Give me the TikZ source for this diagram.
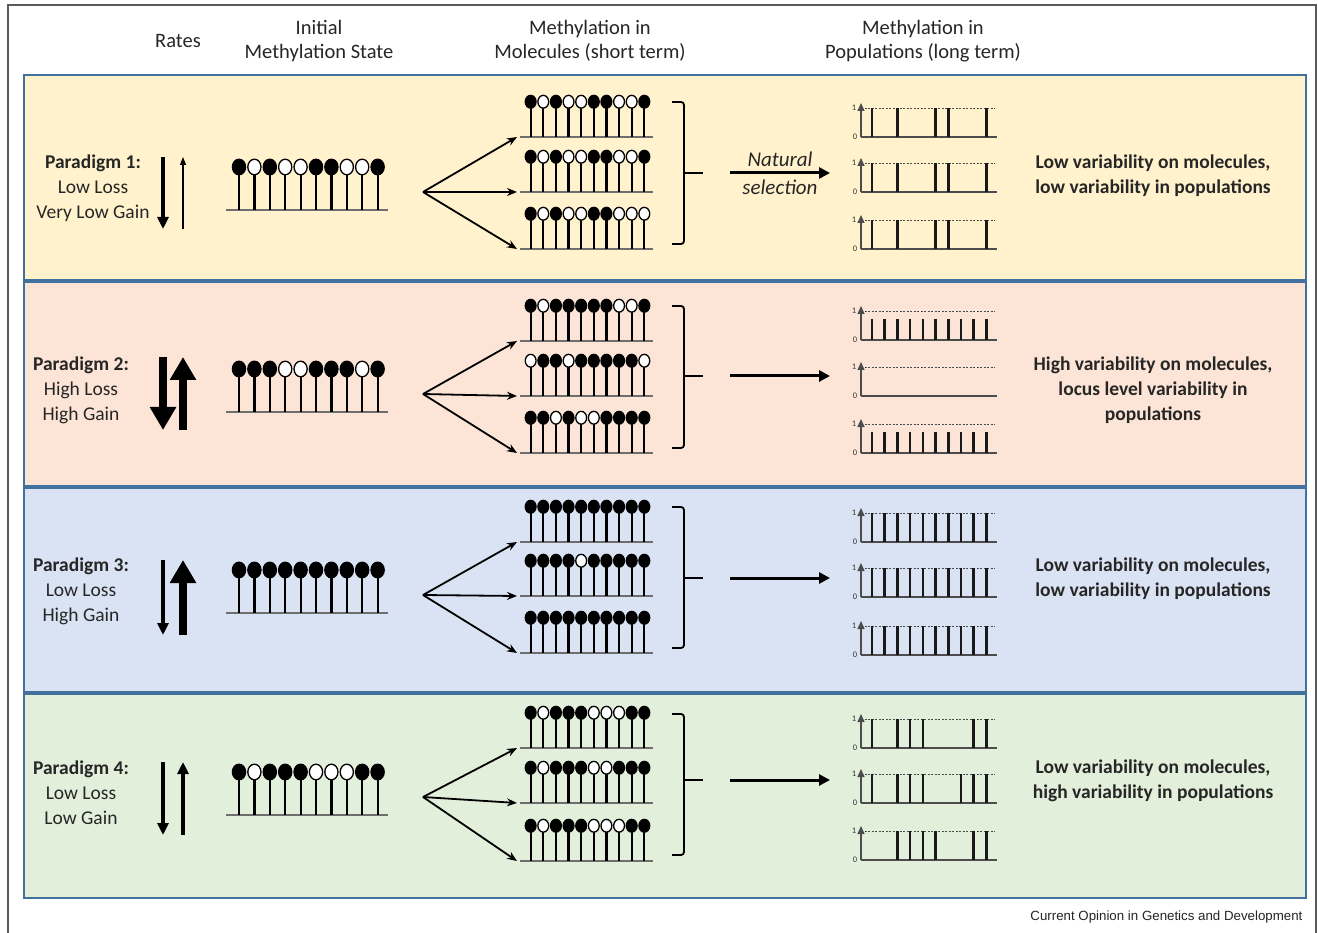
\documentclass[tikz,border=0pt]{standalone}
\usepackage{fontspec}
\setmainfont{Carlito}
\newfontfamily\creditfont{Liberation Sans}
\usepackage{tikz}
\usetikzlibrary{arrows.meta}

\definecolor{paneyellow}{RGB}{255, 242, 204}
\definecolor{panepeach}{RGB}{252, 228, 214}
\definecolor{paneblue}{RGB}{218, 227, 243}
\definecolor{panegreen}{RGB}{226, 239, 218}
\definecolor{paneedge}{RGB}{65, 113, 156}
\definecolor{framegray}{RGB}{90, 90, 90}
\definecolor{basegray}{RGB}{110, 110, 110}
\definecolor{inkgray}{RGB}{38, 38, 38}

% row of CpG lollipops: left end x, baseline y, size factor, states (1 = methylated)
\newcommand{\lollirow}[4]{%
  \draw[baseln] (#1,#2) -- ({#1+162*#3},#2);
  \foreach \m [count=\k from 0] in {#4} {
    \ifnum\m=1 \def\sitecol{black}\else\def\sitecol{white}\fi
    \draw[stick] ({#1+(13+15.4*\k)*#3},#2) -- ++(0,{-43*#3});
    \draw[cpg, fill=\sitecol] ({#1+(13+15.4*\k)*#3},{#2-43*#3}) ellipse [x radius={6.6*#3}, y radius={7.8*#3}];
  }%
}
% population plot frame: name, bottom y
\newcommand{\popaxes}[2]{%
  \draw[poplevel] (861,{#2-29}) -- (995,{#2-29});
  \draw[popaxis] (861,#2) -- (997,#2);
  \draw[popaxis, -{Triangle[length=8pt,width=7pt]}] (861,#2) -- (861,{#2-34});
  \node[tick] (#1-one) at (854,{#2-29}) {1};
  \node[tick] (#1-zero) at (855,#2) {0};
}
% population bars: bottom y, height (0..1), site indices
\newcommand{\popbars}[3]{%
  \foreach \k in {#3} {\draw[popbar] ({872+12.7*\k},#1) -- ++(0,{-29*#2});}%
}

\begin{document}
\begin{tikzpicture}[x=1pt, y=-1pt,
  panel/.style={draw=paneedge, line width=1.5pt},
  hdr/.style={font=\fontsize{20.5}{24}\selectfont, align=center, text=inkgray},
  plabel/.style={font=\fontsize{19.5}{25}\selectfont, align=center, text=inkgray},
  summary/.style={font=\fontsize{19.5}{25}\selectfont\bfseries, align=center, text=inkgray},
  selnote/.style={font=\fontsize{21}{24}\selectfont\itshape, text=inkgray},
  credit/.style={font=\creditfont\fontsize{13.3}{15}\selectfont, text=inkgray},
  tick/.style={font=\fontsize{8.5}{8.5}\selectfont, text=black!80, inner sep=0pt},
  baseln/.style={draw=basegray, line width=1.4pt},
  stick/.style={line width=2.2pt, black},
  cpg/.style={draw=black, line width=1.3pt},
  fanarrow/.style={-{Stealth[length=10pt,width=8pt]}, line width=1.8pt},
  selarrow/.style={-{Triangle[length=11pt,width=11pt]}, line width=3pt},
  bracket/.style={line width=1.8pt, rounded corners=3pt},
  thinrate/.style={-{Triangle[length=8pt,width=6pt]}, line width=1.3pt},
  medrate/.style={-{Triangle[length=12pt,width=11pt]}, line width=3.5pt},
  fatrate/.style={-{Triangle[length=23pt,width=25pt]}, line width=8pt},
  popaxis/.style={draw=black!70, line width=1.3pt},
  popbar/.style={line width=2.6pt, black!90},
  poplevel/.style={black!70, line width=0.7pt, dash pattern=on 2pt off 1.5pt}]

  \useasboundingbox (0,0) rectangle (1318,933);
  \fill[white] (0,0) rectangle (1318,933);
  \draw[framegray, line width=1.2pt] (8,933) -- (8,5) -- (1316,5) -- (1316,933);

  % ===== HEADERS =====
  \node[hdr] (hrates) at (178,41) {Rates};
  \node[hdr] (hinit) at (319,41) {Initial\\Methylation State};
  \node[hdr] (hmol) at (590,41) {Methylation in\\Molecules (short term)};
  \node[hdr] (hpop) at (923,41) {Methylation in\\Populations (long term)};

  % ===== PANELS =====
  \draw[panel, fill=paneyellow] (24,75) rectangle (1306,280);
  \draw[panel, fill=panepeach] (24,282) rectangle (1306,486);
  \draw[panel, fill=paneblue] (24,488) rectangle (1306,692);
  \draw[panel, fill=panegreen] (24,694) rectangle (1306,898);

  % ===== PARADIGM 1 =====
  \node[plabel] (par1) at (93,188) {\textbf{Paradigm 1:}\\Low Loss\\Very Low Gain};
  \draw[medrate] (163,157) -- (163,229);
  \draw[thinrate] (183,229) -- (183,157);
  \lollirow{226}{210}{1}{1,0,1,0,0,1,1,0,0,1}
  \lollirow{520}{137}{0.82}{1,0,1,0,0,1,1,0,0,1}
  \lollirow{520}{192}{0.82}{1,0,1,0,0,1,1,0,0,1}
  \lollirow{520}{249}{0.82}{1,0,1,0,0,1,1,0,0,0}
  \coordinate (fan1) at (423,192);
  \coordinate (mol1a) at (517,137);
  \coordinate (mol1b) at (517,192);
  \coordinate (mol1c) at (517,249);
  \draw[fanarrow] (fan1) -- (mol1a);
  \draw[fanarrow] (fan1) -- (mol1b);
  \draw[fanarrow] (fan1) -- (mol1c);
  \draw[bracket] (672,102) -| (684,244) -- (672,244);
  \draw[bracket] (684,173) -- (703,173);
  \coordinate (sel1a) at (730,173);
  \coordinate (sel1b) at (830,173);
  \draw[selarrow] (sel1a) -- (sel1b);
  \node[selnote] (natural) at (780,159) {Natural};
  \node[selnote] (selection) at (780,187) {selection};
  \popaxes{pop1a}{137} \popbars{137}{1}{0,2,5,6,9}
  \popaxes{pop1b}{192} \popbars{192}{1}{0,2,5,6,9}
  \popaxes{pop1c}{249} \popbars{249}{1}{0,2,5,6,9}
  \node[summary] (sum1) at (1153,176) {Low variability on molecules,\\low variability in populations};

  % ===== PARADIGM 2 =====
  \node[plabel] (par2) at (81,390) {\textbf{Paradigm 2:}\\High Loss\\High Gain};
  \draw[fatrate] (163,357) -- (163,430);
  \draw[fatrate] (183,430) -- (183,357);
  \lollirow{226}{412}{1}{1,1,1,0,0,1,1,1,0,1}
  \lollirow{520}{341}{0.82}{1,0,1,1,1,1,1,0,0,1}
  \lollirow{520}{396}{0.82}{0,1,1,0,1,1,1,1,1,0}
  \lollirow{520}{453}{0.82}{1,1,0,1,0,0,1,1,1,1}
  \coordinate (fan2) at (423,394);
  \coordinate (mol2a) at (517,341);
  \coordinate (mol2b) at (517,396);
  \coordinate (mol2c) at (517,453);
  \draw[fanarrow] (fan2) -- (mol2a);
  \draw[fanarrow] (fan2) -- (mol2b);
  \draw[fanarrow] (fan2) -- (mol2c);
  \draw[bracket] (672,306) -| (684,448) -- (672,448);
  \draw[bracket] (684,376) -- (703,376);
  \coordinate (sel2a) at (730,376);
  \coordinate (sel2b) at (830,376);
  \draw[selarrow] (sel2a) -- (sel2b);
  \popaxes{pop2a}{340} \popbars{340}{0.72}{0,...,9}
  \popaxes{pop2b}{396}
  \popaxes{pop2c}{453} \popbars{453}{0.72}{0,...,9}
  \node[summary] (sum2) at (1153,390) {High variability on molecules,\\locus level variability in\\populations};

  % ===== PARADIGM 3 =====
  \node[plabel] (par3) at (81,591) {\textbf{Paradigm 3:}\\Low Loss\\High Gain};
  \draw[medrate] (163,560) -- (163,635);
  \draw[fatrate] (183,635) -- (183,560);
  \lollirow{226}{613}{1}{1,1,1,1,1,1,1,1,1,1}
  \lollirow{520}{542}{0.82}{1,1,1,1,1,1,1,1,1,1}
  \lollirow{520}{596}{0.82}{1,1,1,1,0,1,1,1,1,1}
  \lollirow{520}{653}{0.82}{1,1,1,1,1,1,1,1,1,1}
  \coordinate (fan3) at (423,595);
  \coordinate (mol3a) at (517,542);
  \coordinate (mol3b) at (517,596);
  \coordinate (mol3c) at (517,653);
  \draw[fanarrow] (fan3) -- (mol3a);
  \draw[fanarrow] (fan3) -- (mol3b);
  \draw[fanarrow] (fan3) -- (mol3c);
  \draw[bracket] (672,507) -| (684,648) -- (672,648);
  \draw[bracket] (684,578) -- (703,578);
  \coordinate (sel3a) at (730,578);
  \coordinate (sel3b) at (830,578);
  \draw[selarrow] (sel3a) -- (sel3b);
  \popaxes{pop3a}{542} \popbars{542}{1}{0,...,9}
  \popaxes{pop3b}{597} \popbars{597}{1}{0,...,9}
  \popaxes{pop3c}{655} \popbars{655}{1}{0,...,9}
  \node[summary] (sum3) at (1153,579) {Low variability on molecules,\\low variability in populations};

  % ===== PARADIGM 4 =====
  \node[plabel] (par4) at (81,793) {\textbf{Paradigm 4:}\\Low Loss\\Low Gain};
  \draw[medrate] (163,762) -- (163,835);
  \draw[medrate] (183,835) -- (183,762);
  \lollirow{226}{815}{1}{1,0,1,1,1,0,0,0,1,1}
  \lollirow{520}{748}{0.82}{1,0,1,1,1,0,0,0,1,1}
  \lollirow{520}{803}{0.82}{1,0,1,1,1,0,0,1,1,1}
  \lollirow{520}{861}{0.82}{1,0,1,1,1,0,0,0,1,1}
  \coordinate (fan4) at (423,797);
  \coordinate (mol4a) at (517,748);
  \coordinate (mol4b) at (517,803);
  \coordinate (mol4c) at (517,861);
  \draw[fanarrow] (fan4) -- (mol4a);
  \draw[fanarrow] (fan4) -- (mol4b);
  \draw[fanarrow] (fan4) -- (mol4c);
  \draw[bracket] (672,714) -| (684,855) -- (672,855);
  \draw[bracket] (684,780) -- (703,780);
  \coordinate (sel4a) at (730,780);
  \coordinate (sel4b) at (830,780);
  \draw[selarrow] (sel4a) -- (sel4b);
  \popaxes{pop4a}{748} \popbars{748}{1}{0,2,3,4,8,9}
  \popaxes{pop4b}{803} \popbars{803}{1}{0,2,3,4,7,8,9}
  \popaxes{pop4c}{860} \popbars{860}{1}{2,3,4,5,8,9}
  \node[summary] (sum4) at (1153,781) {Low variability on molecules,\\high variability in populations};

  % source line
  \node[credit, anchor=east] (source) at (1306,917) {Current Opinion in Genetics and Development};
\end{tikzpicture}
\end{document}
